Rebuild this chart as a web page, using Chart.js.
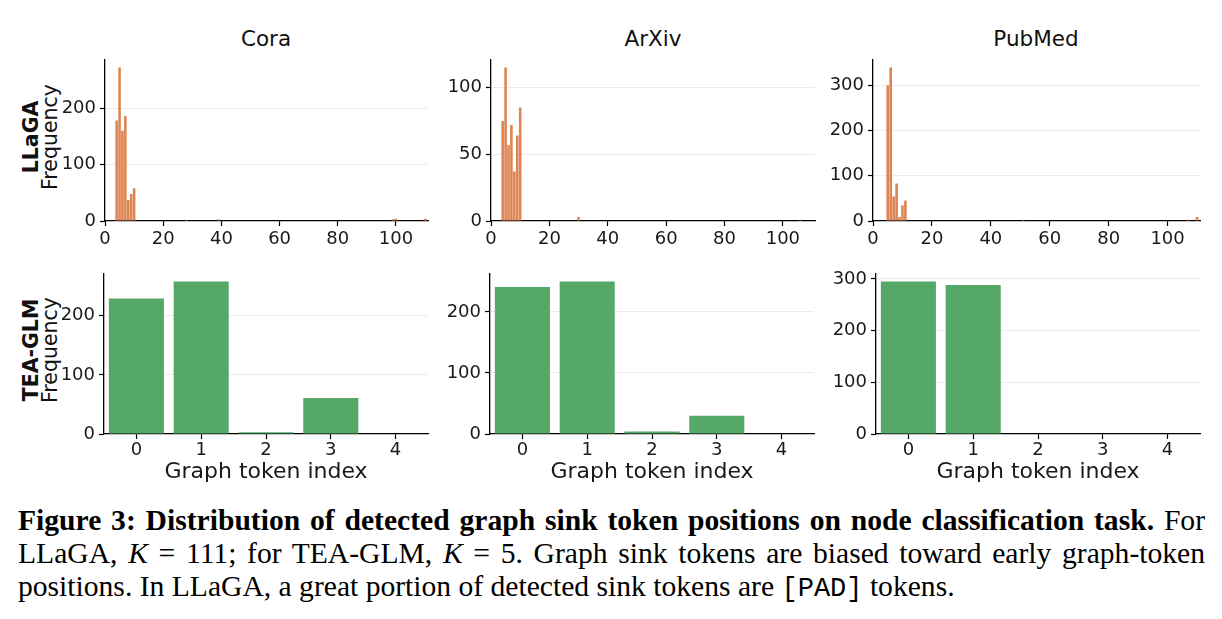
<!DOCTYPE html>
<html><head><meta charset="utf-8">
<script src="https://cdn.jsdelivr.net/npm/chart.js@4.4.1/dist/chart.umd.min.js"></script>
<style>
html,body{margin:0;padding:0;background:#fff;}
body{width:1222px;height:619px;overflow:hidden;position:relative;}
canvas{position:absolute;}
.ttl{position:absolute;font-family:"DejaVu Sans";font-size:21.5px;line-height:21.5px;color:#111;text-align:center;width:200px;white-space:nowrap;}
.ylab{position:absolute;font-family:"DejaVu Sans";font-size:20.5px;line-height:19px;color:#111;text-align:center;white-space:nowrap;transform:translate(-50%,-50%) rotate(-90deg);}
.ylab b{font-weight:bold;}
.cap{position:absolute;left:18px;width:1187px;font-family:"Liberation Serif";font-size:29.6px;color:#000;}
.cap div{height:33px;line-height:33px;text-align:justify;text-align-last:justify;}
.cap div.last{text-align:left;text-align-last:left;}
.cap code{font-family:"Liberation Mono";font-size:27px;}
</style></head><body>
<div class="ttl" style="left:166px;top:28px;">Cora</div>
<div class="ttl" style="left:553px;top:28px;">ArXiv</div>
<div class="ttl" style="left:936px;top:28px;">PubMed</div>
<div class="ylab" style="left:41px;top:137px;"><b>LLaGA</b><br>Frequency</div>
<div class="ylab" style="left:41px;top:350px;"><b>TEA-GLM</b><br>Frequency</div>
<canvas id="c0"></canvas><canvas id="c1"></canvas><canvas id="c2"></canvas>
<canvas id="c3"></canvas><canvas id="c4"></canvas><canvas id="c5"></canvas>
<div class="cap" style="top:504px;">
<div><b>Figure 3: Distribution of detected graph sink token positions on node classification task.</b> For</div>
<div>LLaGA, <i>K</i> = 111; for TEA-GLM, <i>K</i> = 5. Graph sink tokens are biased toward early graph-token</div>
<div class="last">positions. In LLaGA, a great portion of detected sink tokens are <code>[PAD]</code> tokens.</div>
</div>
<script>
// ---- data ----
const datasetNames = ['Cora', 'ArXiv', 'PubMed'];
const llagaCoraPos = [4, 5, 6, 7, 8, 9, 10, 28, 39, 99, 100, 110];
const llagaCoraFreq = [178, 272, 160, 186, 37, 48, 58, 2, 3, 3, 4, 4];
const llagaArxivPos = [4, 5, 6, 7, 8, 9, 10, 30, 106];
const llagaArxivFreq = [75, 115, 57, 72, 37, 64, 85, 3, 1];
const llagaPubmedPos = [5, 6, 7, 8, 9, 10, 11, 51, 107, 110];
const llagaPubmedFreq = [300, 339, 54, 83, 9, 34, 45, 3, 3, 9];
const tokenIdx = [0, 1, 2, 3, 4];
const teaCoraFreq = [229, 258, 3, 61, 0];
const teaArxivFreq = [241, 250, 4, 30, 0];
const teaPubmedFreq = [295, 288, 0, 0, 0];
// tick labels
const llagaXTicks = [0, 20, 40, 60, 80, 100];
const llagaCoraYTicks = [0, 100, 200];
const llagaArxivYTicks = [0, 50, 100];
const llagaPubmedYTicks = [0, 100, 200, 300];
const teaCoraYTicks = [0, 100, 200];
const teaArxivYTicks = [0, 100, 200];
const teaPubmedYTicks = [0, 100, 200, 300];
const llagaXRange = [0, 111];
const teaXRange = [-0.5, 4.5];
const xTitle = 'Graph token index';

const ORANGE = '#DD8452', GREEN = '#55A868';
const FONT = 'DejaVu Sans';
const TXT = '#1a1a1a';

// panel plot areas (layout)
const topGeom = [{l:105,r:428,t:53,b:221},{l:491,r:815,t:53,b:221},{l:873,r:1200,t:53,b:221}];
const botGeom = [{l:104,r:428,t:267,b:434},{l:490,r:814,t:267,b:434},{l:876,r:1200,t:267,b:434}];

function makeChart(id, g, xs, ys, color, xr, xticks, yticks, barPct, axisH, tickPad, title) {
  const PADL = 60, PADT = 8, PADR = 8;
  const cv = document.getElementById(id);
  const w = g.r - g.l + PADL + PADR, h = g.b - g.t + PADT + axisH;
  cv.width = w; cv.height = h;
  cv.style.left = (g.l - PADL) + 'px'; cv.style.top = (g.t - PADT) + 'px';
  cv.style.width = w + 'px'; cv.style.height = h + 'px';
  const ymax = Math.max(...ys) * 1.05;
  new Chart(cv, {
    type: 'bar',
    data: { datasets: [{ data: xs.map((x, i) => ({x: x, y: ys[i]})), backgroundColor: color, borderWidth: 0,
      barPercentage: barPct, categoryPercentage: 1 }] },
    options: {
      responsive: false, animation: false, devicePixelRatio: 1,
      layout: { padding: { left: 0, top: PADT, right: PADR, bottom: 0 } },
      plugins: { legend: { display: false }, tooltip: { enabled: false } },
      scales: {
        x: { type: 'linear', min: xr[0], max: xr[1], offset: false,
          afterBuildTicks: s => { s.ticks = xticks.map(v => ({ value: v })); },
          ticks: { autoSkip: false, maxRotation: 0, padding: tickPad,
            color: TXT, font: { family: FONT, size: 18 } },
          grid: { offset: false, drawOnChartArea: false, drawTicks: true, tickLength: 5, tickColor: '#000', tickWidth: 1.2 },
          border: { display: true, color: '#000', width: 1.3 },
          title: { display: !!title, text: title || '', color: TXT, font: { family: FONT, size: 22 }, padding: { top: 0, bottom: 0 } },
          afterFit: s => { s.height = axisH; } },
        y: { min: 0, max: ymax,
          afterBuildTicks: s => { s.ticks = yticks.map(v => ({ value: v })); },
          ticks: { padding: 4, color: TXT, font: { family: FONT, size: 18 } },
          grid: { offset: false, color: c => (c.tick && c.tick.value === 0) ? 'rgba(0,0,0,0)' : '#ebebeb', lineWidth: 1,
            drawTicks: true, tickLength: 5, tickColor: '#000', tickWidth: 1.2 },
          border: { display: true, color: '#000', width: 1.3 },
          afterFit: s => { s.width = PADL; } }
      }
    }
  });
}

makeChart('c0', topGeom[0], llagaCoraPos, llagaCoraFreq, ORANGE, llagaXRange, llagaXTicks, llagaCoraYTicks, 0.88, 32, 3, null);
makeChart('c1', topGeom[1], llagaArxivPos, llagaArxivFreq, ORANGE, llagaXRange, llagaXTicks, llagaArxivYTicks, 0.88, 32, 3, null);
makeChart('c2', topGeom[2], llagaPubmedPos, llagaPubmedFreq, ORANGE, llagaXRange, llagaXTicks, llagaPubmedYTicks, 0.88, 32, 3, null);
makeChart('c3', botGeom[0], tokenIdx, teaCoraFreq, GREEN, teaXRange, tokenIdx, teaCoraYTicks, 0.85, 51, 1, xTitle);
makeChart('c4', botGeom[1], tokenIdx, teaArxivFreq, GREEN, teaXRange, tokenIdx, teaArxivYTicks, 0.85, 51, 1, xTitle);
makeChart('c5', botGeom[2], tokenIdx, teaPubmedFreq, GREEN, teaXRange, tokenIdx, teaPubmedYTicks, 0.85, 51, 1, xTitle);
</script>
</body></html>
